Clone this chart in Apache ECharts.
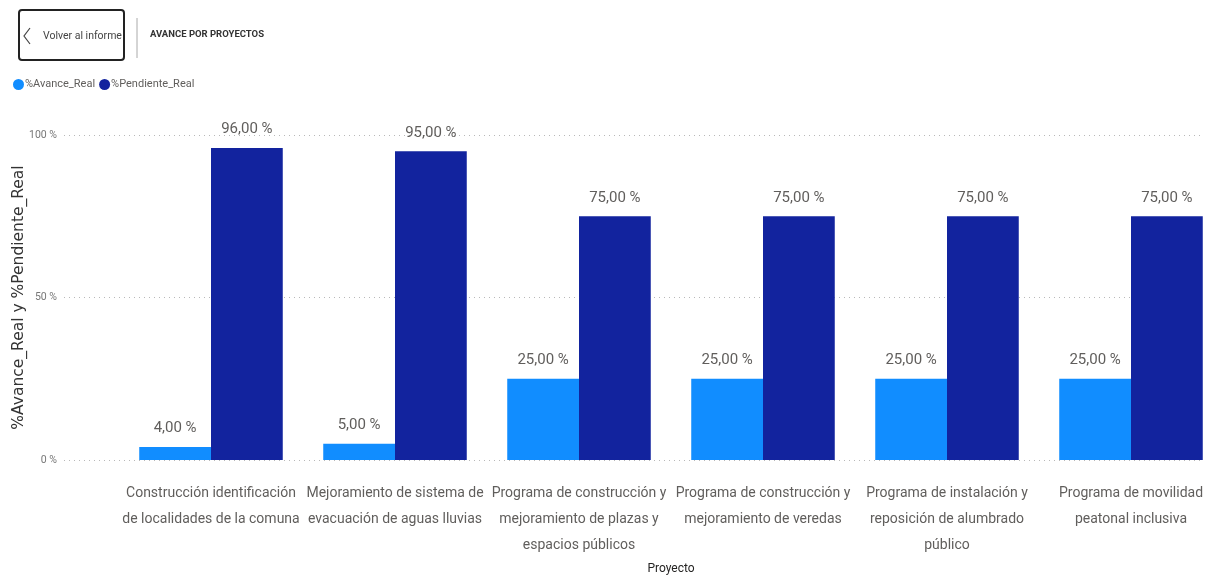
<!DOCTYPE html>
<html>
<meta charset="utf-8">
<head>
	<title>Avance por proyectos</title>
	<script src="https://cdn.jsdelivr.net/npm/echarts@6/dist/echarts.min.js"></script>
	<style type="text/css">
		html, body { margin: 0; padding: 0; background: #fff; }
		#main { width: 1211px; height: 575px; }
	</style>
</head>
<body>
<div id="main"></div>
<script type="text/javascript">
// datos
var proyectos = [
    'Construcción identificación\nde localidades de la comuna',
    'Mejoramiento de sistema de\nevacuación de aguas lluvias',
    'Programa de construcción y\nmejoramiento de plazas y\nespacios públicos',
    'Programa de construcción y\nmejoramiento de veredas',
    'Programa de instalación y\nreposición de alumbrado\npúblico',
    'Programa de movilidad\npeatonal inclusiva'
];
var avanceReal = [4, 5, 25, 25, 25, 25];
var pendienteReal = [96, 95, 75, 75, 75, 75];
var yTicks = [0, 50, 100];

var gris = '#605e5c';
var fuente = 'Roboto, sans-serif';

function pct(v) {
    return v.toFixed(2).replace('.', ',') + ' %';
}

var chart = echarts.init(document.getElementById('main'), null, {renderer: 'canvas'});

var option = {
    animation: false,
    textStyle: {fontFamily: fuente},
    legend: {
        left: 8, top: 74,
        icon: 'circle', itemWidth: 11, itemHeight: 11, itemGap: 4,
        textStyle: {color: gris, fontSize: 11, padding: [0, 0, 0, -4]},
        data: ['%Avance_Real', '%Pendiente_Real']
    },
    grid: [
        // rejilla (lineas punteadas y eje y)
        {left: 64, right: 11, top: 135, height: 325, outerBoundsMode: 'none'},
        // barras
        {left: 119, width: 1104, top: 135, height: 325, outerBoundsMode: 'none'}
    ],
    xAxis: [
        {gridIndex: 0, type: 'value', show: false},
        {
            gridIndex: 1, type: 'category', data: proyectos,
            axisLine: {show: false}, axisTick: {show: false},
            axisLabel: {color: gris, fontSize: 14, lineHeight: 26, margin: 20, interval: 0},
            name: 'Proyecto', nameLocation: 'middle', nameGap: 102,
            nameTextStyle: {color: '#252423', fontSize: 12}
        }
    ],
    yAxis: [
        {
            gridIndex: 0, type: 'value', min: 0, max: 100, interval: 50,
            axisLine: {show: false}, axisTick: {show: false},
            axisLabel: {color: '#777', fontSize: 10.5, margin: 7, formatter: function (v) { return v + ' %'; }},
            splitLine: {lineStyle: {type: [1, 4], color: '#b8b8b8', width: 1}},
            name: '%Avance_Real y %Pendiente_Real', nameLocation: 'middle', nameGap: 37,
            nameMoveOverlap: false,
            nameTextStyle: {color: '#333', fontSize: 15.5, fontFamily: 'DejaVu Sans'}
        },
        {gridIndex: 1, type: 'value', min: 0, max: 100, show: false}
    ],
    series: [
        {
            name: '%Avance_Real', type: 'bar', xAxisIndex: 1, yAxisIndex: 1,
            data: avanceReal, barGap: '0%', barCategoryGap: '22%',
            itemStyle: {color: '#118DFF'},
            label: {show: true, position: 'top', distance: 11, color: gris, fontSize: 15, formatter: function (p) { return pct(p.value); }}
        },
        {
            name: '%Pendiente_Real', type: 'bar', xAxisIndex: 1, yAxisIndex: 1,
            data: pendienteReal, barGap: '0%', barCategoryGap: '22%',
            itemStyle: {color: '#12239E'},
            label: {show: true, position: 'top', distance: 11, color: gris, fontSize: 15, formatter: function (p) { return pct(p.value); }}
        },
        // serie vacia para que exista la rejilla 0
        {type: 'line', xAxisIndex: 0, yAxisIndex: 0, data: [], silent: true}
    ],
    graphic: [
        {type: 'rect', shape: {x: 19, y: 10, width: 105, height: 50, r: 3}, style: {fill: '#fff', stroke: '#222', lineWidth: 2}},
        {type: 'polyline', shape: {points: [[30, 28], [24, 36], [30, 44]]}, style: {stroke: '#444', lineWidth: 1.2, fill: null}},
        {type: 'text', x: 43, y: 31, style: {text: 'Volver al informe', fill: '#444', fontSize: 10.5, fontFamily: fuente}},
        {type: 'line', shape: {x1: 137, y1: 18, x2: 137, y2: 58}, style: {stroke: '#aaa', lineWidth: 1}},
        {type: 'text', x: 150, y: 30, style: {text: 'AVANCE POR PROYECTOS', fill: '#333', fontSize: 9.5, fontWeight: 'bold', fontFamily: fuente}}
    ]
};

chart.setOption(option);
</script>
</body>
</html>
